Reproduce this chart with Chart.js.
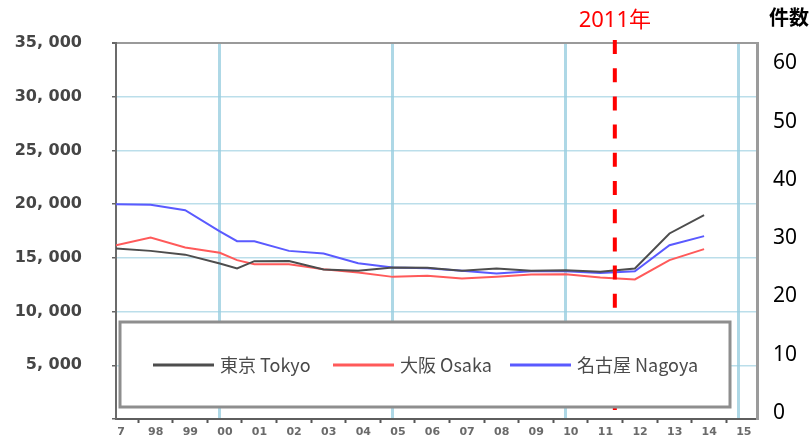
<!DOCTYPE html>
<html>
<head>
<meta charset="utf-8">
<script src="https://cdn.jsdelivr.net/npm/chart.js@4.4.0/dist/chart.umd.min.js"></script>
<style>
  html, body { margin: 0; padding: 0; background: #fff; }
</style>
</head>
<body>
<canvas id="chart" width="812" height="437"></canvas>
<script>
// years of each point (an extra half-year kink shows up after 2000)
const years = [1997, 1998, 1999, 2000, 2000.5, 2001, 2002, 2003, 2004, 2005,
  2006, 2007, 2008, 2009, 2010, 2011, 2012, 2013, 2014];
const tokyo = [15880, 15650, 15300, 14480, 14010, 14690, 14700, 13920, 13800, 14100,
  14070, 13800, 14000, 13800, 13850, 13700, 14010, 17270, 18970];
const osaka = [16180, 16900, 15970, 15470, 14790, 14410, 14410, 13950, 13640, 13230,
  13325, 13080, 13230, 13450, 13480, 13175, 12990, 14790, 15810];
const nagoya = [20000, 19950, 19440, 17470, 16550, 16550, 15650, 15400, 14500, 14100,
  14040, 13790, 13550, 13760, 13760, 13600, 13760, 16180, 17020];

const seriesNames = ["東京 Tokyo", "大阪 Osaka", "名古屋 Nagoya"];
const seriesColors = ["#4d4d4d", "#ff5a5a", "#5a5aff"];

const xTickLabels = ["7", "98", "99", "00", "01", "02", "03", "04", "05", "06",
  "07", "08", "09", "10", "11", "12", "13", "14", "15"];
const firstTickYear = 1996.64;
const gridYears = [2000, 2005, 2010, 2015];
const leftTicks = [0, 5000, 10000, 15000, 20000, 25000, 30000, 35000];
const rightTicks = [0, 10, 20, 30, 40, 50, 60];

const markerYear = 2011.42;
const markerLabel = "2011年";
const rightTitle = "件数";

const X_MIN = 1997, X_MAX = 2015.53;

function toPoints(vals) {
  return vals.map((v, i) => ({ x: years[i], y: v }));
}

// the axes are sized by hand, so drop the label overhang chart.js adds
function fixSize(prop, size) {
  return (s) => {
    s[prop] = size;
    s.paddingTop = 0;
    s.paddingBottom = 0;
    s.paddingLeft = 0;
    s.paddingRight = 0;
  };
}

const overlay = {
  id: "overlay",
  afterDraw(chart) {
    const c = chart.ctx;
    const area = chart.chartArea;
    const mx = chart.scales.x.getPixelForValue(markerYear);
    c.save();

    // 2011 dashed marker
    c.strokeStyle = "#ff0000";
    c.lineWidth = 4;
    c.setLineDash([14, 14.2]);
    c.beginPath();
    c.moveTo(mx, area.top - 3);
    c.lineTo(mx, 410);
    c.stroke();
    c.setLineDash([]);

    // legend box
    c.fillStyle = "#fff";
    c.fillRect(120, 322, 610, 85);
    c.strokeStyle = "#8e8e8e";
    c.lineWidth = 3;
    c.strokeRect(120, 322, 610, 85);

    const starts = [153, 333, 510];
    c.font = '18px "Noto Sans CJK JP"';
    c.textBaseline = "middle";
    c.textAlign = "left";
    chart.data.datasets.forEach((ds, i) => {
      c.strokeStyle = ds.borderColor;
      c.lineWidth = 3;
      c.beginPath();
      c.moveTo(starts[i], 365);
      c.lineTo(starts[i] + 61, 365);
      c.stroke();
      c.fillStyle = "#4a4a4a";
      c.fillText(ds.label, starts[i] + 67, 365);
    });

    // texts on top
    c.fillStyle = "#ff0000";
    c.textAlign = "center";
    c.font = '22px "Noto Sans", "Noto Sans CJK JP"';
    c.fillText(markerLabel, mx, 21);

    c.fillStyle = "#000";
    c.font = 'bold 20px "Noto Sans CJK JP"';
    c.fillText(rightTitle, 789, 17);
    c.restore();
  }
};

new Chart(document.getElementById("chart"), {
  type: "line",
  data: {
    datasets: [
      { label: seriesNames[0], data: toPoints(tokyo), borderColor: seriesColors[0] },
      { label: seriesNames[1], data: toPoints(osaka), borderColor: seriesColors[1] },
      { label: seriesNames[2], data: toPoints(nagoya), borderColor: seriesColors[2] },
    ].map((d) => ({ ...d, borderWidth: 2, pointRadius: 0, tension: 0, fill: false })),
  },
  options: {
    responsive: false,
    animation: false,
    devicePixelRatio: 1,
    layout: { padding: { top: 43, left: 0, right: 0, bottom: 0 } },
    plugins: { legend: { display: false }, tooltip: { enabled: false } },
    scales: {
      x: {
        type: "linear",
        position: "bottom",
        min: X_MIN,
        max: X_MAX,
        afterBuildTicks: (s) => {
          s.ticks = xTickLabels.map((_, i) => ({ value: firstTickYear + i }));
        },
        afterFit: fixSize("height", 18),
        ticks: {
          autoSkip: false,
          maxRotation: 0,
          labelOffset: 17.6,
          padding: 3,
          color: "#6a6a6a",
          font: { family: "DejaVu Sans", size: 11, weight: "bold" },
          callback: (v, i) => xTickLabels[i],
        },
        grid: {
          drawOnChartArea: false,
          tickLength: 4,
          tickWidth: 2,
          tickColor: (ctx) => (ctx.index === 0 ? "rgba(0,0,0,0)" : "#555"),
        },
        border: { color: "#5e5e5e", width: 2 },
      },
      x2: {
        type: "linear",
        position: "bottom",
        min: X_MIN,
        max: X_MAX,
        afterBuildTicks: (s) => {
          s.ticks = gridYears.map((v) => ({ value: v }));
        },
        afterFit: fixSize("height", 0),
        ticks: { display: false },
        grid: { drawTicks: false, color: "rgba(140,200,220,0.7)", lineWidth: 3 },
        border: { display: false },
      },
      y: {
        type: "linear",
        position: "left",
        min: 0,
        max: 35000,
        afterBuildTicks: (s) => {
          s.ticks = leftTicks.map((v) => ({ value: v }));
        },
        afterFit: fixSize("width", 116),
        ticks: {
          padding: 30,
          color: "#454545",
          font: { family: "DejaVu Sans", size: 16, weight: "bold" },
          callback: (v) => (v === 0 ? "" : v / 1000 + ", 000"),
        },
        grid: {
          color: (ctx) => (ctx.tick && ctx.tick.value === 35000 ? "#9a9a9a" : "rgba(150,205,222,0.65)"),
          lineWidth: (ctx) => (ctx.tick && ctx.tick.value === 35000 ? 2 : 1.5),
          tickLength: 4,
          tickColor: "#666",
        },
        border: { color: "#6b6b6b", width: 2 },
      },
      y2: {
        type: "linear",
        position: "right",
        min: -1.03,
        max: 63.52,
        afterBuildTicks: (s) => {
          s.ticks = rightTicks.map((v) => ({ value: v }));
        },
        afterFit: fixSize("width", 55),
        ticks: {
          padding: 16,
          color: "#000",
          font: { family: "Noto Sans", size: 21 },
        },
        grid: { drawOnChartArea: false, drawTicks: false },
        border: { color: "#9b9b9b", width: 3 },
      },
    },
  },
  plugins: [overlay],
});
</script>
</body>
</html>
